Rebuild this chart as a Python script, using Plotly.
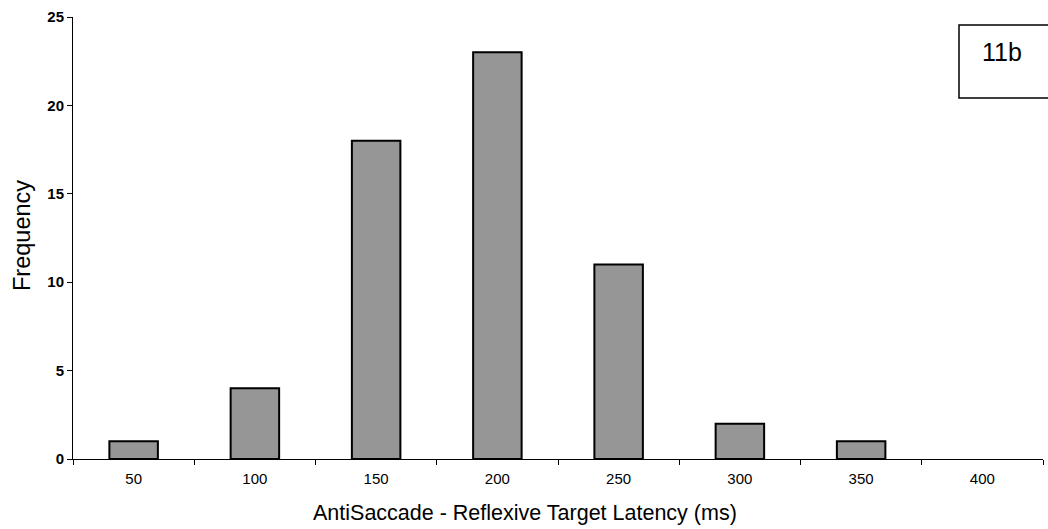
import plotly.graph_objects as go

categories = ["50", "100", "150", "200", "250", "300", "350", "400"]
frequency = [1, 4, 18, 23, 11, 2, 1, 0]
y_ticks = [0, 5, 10, 15, 20, 25]

L, R, T, B = 73, 5, 17, 70
W, H = 1048, 529
pw, ph = W - L - R, H - T - B

def px(x):
    return (x - L) / pw

def py(y):
    return (H - B - y) / ph

outline = [2 if v > 0 else 0 for v in frequency]

fig = go.Figure(go.Bar(
    x=categories, y=frequency,
    marker=dict(color="#969696", line=dict(color="black", width=outline)),
    width=0.4,
))

fig.update_layout(
    width=W, height=H,
    margin=dict(l=L, r=R, t=T, b=B),
    plot_bgcolor="white", paper_bgcolor="white",
    showlegend=False,
    font=dict(family="Arial, Liberation Sans, sans-serif", color="black"),
    xaxis=dict(
        type="category", range=[-0.5, 7.5], tickson="boundaries",
        ticks="outside", ticklen=5, tickcolor="black", tickwidth=1,
        showline=True, linecolor="black", linewidth=1,
        showgrid=False, tickfont=dict(size=15), ticklabelstandoff=6,
    ),
    yaxis=dict(
        range=[0, 25], tickvals=y_ticks, ticktext=[f"<b>{v}</b>" for v in y_ticks],
        ticks="outside", ticklen=5, tickcolor="black", tickwidth=1,
        showline=True, linecolor="black", linewidth=1,
        showgrid=False, zeroline=False, tickfont=dict(size=15),
    ),
    shapes=[dict(type="rect", xref="paper", yref="paper",
                 x0=px(959), x1=px(1060), y0=py(98), y1=py(25),
                 line=dict(color="black", width=1.5), fillcolor="white")],
    annotations=[
        dict(text="11b", xref="paper", yref="paper", x=px(1002), y=py(52),
             showarrow=False, font=dict(size=25), xanchor="center", yanchor="middle"),
        dict(text="AntiSaccade - Reflexive Target Latency (ms)", xref="paper", yref="paper",
             x=px(525), y=py(513), showarrow=False, font=dict(size=21.5),
             xanchor="center", yanchor="middle"),
        dict(text="Frequency", xref="paper", yref="paper", textangle=-90,
             x=px(22), y=py(236), showarrow=False, font=dict(size=23.5),
             xanchor="center", yanchor="middle"),
    ],
)

fig.write_html("out.html")
